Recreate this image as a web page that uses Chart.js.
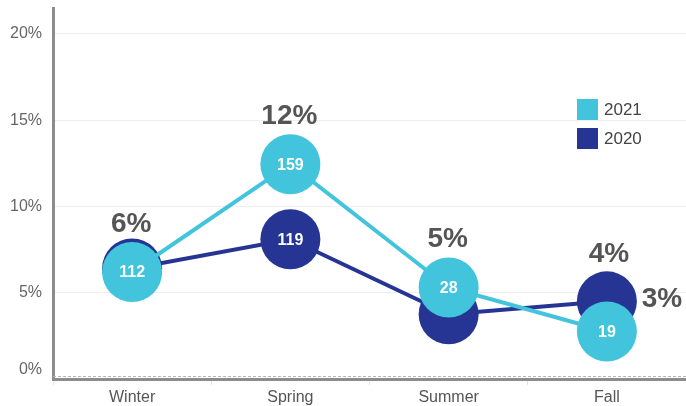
<!DOCTYPE html>
<html>
<head>
<meta charset="utf-8">
<script src="https://cdn.jsdelivr.net/npm/chart.js@4.4.0/dist/chart.umd.min.js"></script>
<style>
  html, body { margin: 0; padding: 0; background: #fff; }
  #chart { display: block; }
</style>
</head>
<body>
<canvas id="chart" width="686" height="406"></canvas>
<script>
// Données
const categories = ['Winter', 'Spring', 'Summer', 'Fall'];
const values2021 = [6.2, 12.45, 5.3, 2.75];
const values2020 = [6.4, 8.1, 3.75, 4.5];
const counts2021 = ['112', '159', '28', '19'];
const counts2020 = [null, '119', null, null];
const pctLabels2021 = ['6%', '12%', '5%', '3%'];
const pctLabels2020 = [null, null, null, '4%'];
const yTicks = [0, 5, 10, 15, 20];

const COLOR_2021 = '#42c4dc';
const COLOR_2020 = '#263594';
const FONT = '"Liberation Sans", Arial, Helvetica, sans-serif';

/**
 * Nombres blancs dans les cercles (dessinés par dataset pour garder l'ordre)
 */
const countLabels = {
    id: 'countLabels',
    afterDatasetDraw(chart, args) {
        const ctx = chart.ctx;
        const counts = args.index === 0 ? counts2021 : counts2020;
        ctx.save();
        ctx.font = 'bold 16px ' + FONT;
        ctx.fillStyle = '#ffffff';
        ctx.textAlign = 'center';
        ctx.textBaseline = 'middle';
        args.meta.data.forEach((pt, i) => {
            if (counts[i]) ctx.fillText(counts[i], pt.x, pt.y + 1);
        });
        ctx.restore();
    }
};

/**
 * Pourcentages, ligne pointillée et légende
 */
const extras = {
    id: 'extras',
    afterDatasetsDraw(chart) {
        const ctx = chart.ctx;
        const area = chart.chartArea;

        // ligne pointillée au-dessus de l'axe X
        ctx.save();
        ctx.strokeStyle = '#b5b5b5';
        ctx.lineWidth = 1;
        ctx.setLineDash([3, 2]);
        ctx.beginPath();
        ctx.moveTo(area.left, area.bottom - 2.5);
        ctx.lineTo(area.right, area.bottom - 2.5);
        ctx.stroke();
        ctx.restore();

        ctx.save();
        ctx.font = 'bold 28px ' + FONT;
        ctx.fillStyle = '#555555';
        ctx.textAlign = 'center';
        ctx.textBaseline = 'middle';
        const m21 = chart.getDatasetMeta(0).data;
        const m20 = chart.getDatasetMeta(1).data;
        pctLabels2021.forEach((t, i) => {
            if (!t) return;
            const pt = m21[i];
            if (i === 3) {
                ctx.fillText(t, pt.x + 55, pt.y - 32);
            } else {
                ctx.fillText(t, pt.x - 1, pt.y - 48);
            }
        });
        pctLabels2020.forEach((t, i) => {
            if (!t) return;
            const pt = m20[i];
            ctx.fillText(t, pt.x + 2, pt.y - 47);
        });
        ctx.restore();

        // légende
        ctx.save();
        ctx.font = '17px ' + FONT;
        ctx.textBaseline = 'middle';
        ctx.textAlign = 'left';
        [['2021', COLOR_2021, 99], ['2020', COLOR_2020, 128]].forEach(([label, color, y]) => {
            ctx.fillStyle = color;
            ctx.fillRect(577, y, 21, 21);
            ctx.fillStyle = '#444444';
            ctx.fillText(label, 604, y + 11);
        });
        ctx.restore();
    }
};

new Chart(document.getElementById('chart'), {
    type: 'line',
    data: {
        labels: categories,
        datasets: [
            {
                label: '2021',
                data: values2021,
                borderColor: COLOR_2021,
                backgroundColor: COLOR_2021,
                pointBackgroundColor: COLOR_2021,
                borderWidth: 4,
                pointRadius: 30,
                pointHoverRadius: 30,
                pointBorderWidth: 0,
                tension: 0,
                clip: false,
            },
            {
                label: '2020',
                data: values2020,
                borderColor: COLOR_2020,
                backgroundColor: COLOR_2020,
                pointBackgroundColor: COLOR_2020,
                borderWidth: 4,
                pointRadius: 30,
                pointHoverRadius: 30,
                pointBorderWidth: 0,
                tension: 0,
                clip: false,
            }
        ]
    },
    options: {
        responsive: false,
        devicePixelRatio: 1,
        animation: false,
        layout: {
            autoPadding: false,
            padding: { top: 8, right: -3, left: 0, bottom: 0 },
        },
        plugins: {
            legend: { display: false },
            tooltip: { enabled: false },
        },
        scales: {
            x: {
                offset: true,
                grid: {
                    offset: true,
                    drawOnChartArea: false,
                    tickLength: 6,
                    color: '#e4e4e4',
                },
                border: { color: '#8c8c8c', width: 3 },
                ticks: {
                    font: { family: FONT, size: 16 },
                    color: '#555555',
                    padding: 3,
                },
                afterFit(scale) {
                    scale.height = 27;
                    scale.paddingLeft = 0;
                    scale.paddingRight = 0;
                },
            },
            y: {
                min: 0,
                max: 21.5,
                afterBuildTicks(scale) {
                    scale.ticks = yTicks.map(v => ({ value: v }));
                },
                ticks: {
                    font: { family: FONT, size: 16 },
                    color: '#666666',
                    padding: 11,
                    callback: v => v === 0 ? ['0%', ''] : v + '%',
                },
                grid: { color: '#eeeeee', drawTicks: false },
                border: { color: '#8c8c8c', width: 3 },
                afterFit(scale) {
                    scale.width = 53;
                    scale.paddingTop = 0;
                    scale.paddingBottom = 0;
                },
            }
        }
    },
    plugins: [countLabels, extras]
});
</script>
</body>
</html>
